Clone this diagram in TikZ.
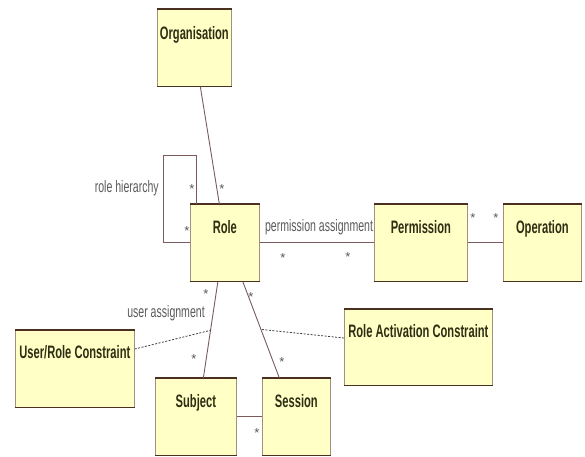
\documentclass[tikz,border=0pt]{standalone}
\usepackage{fontspec}
\setmainfont{Liberation Sans}
\newfontfamily\boxfont{Liberation Sans}[FakeStretch=0.62]
\newfontfamily\lblfont{Liberation Sans}[FakeStretch=0.64]
\newfontfamily\starfont{Liberation Sans}
\usetikzlibrary{calc}
\definecolor{boxfill}{HTML}{FFFFC6}
\definecolor{boxside}{HTML}{A09080}
\definecolor{boxtopc}{HTML}{4A3020}
\definecolor{linec}{HTML}{7A5A5A}
\definecolor{labelc}{HTML}{2E2E14}
\definecolor{edgelc}{HTML}{5A5A5A}
\begin{document}
\begin{tikzpicture}[x=1pt,y=-1pt,
  umlbox/.style={draw=boxside, fill=boxfill, line width=0.7pt, inner sep=0pt, anchor=north west},
  boxedge/.style={draw=boxtopc, line width=1.3pt},
  boxlabel/.style={anchor=base, inner sep=0pt, text=labelc, font=\boxfont\bfseries\fontsize{18}{20}\selectfont},
  edgelabel/.style={inner sep=0pt, text=edgelc, font=\lblfont\fontsize{16.5}{18}\selectfont},
  star/.style={inner sep=0pt, yshift=-3pt, text=black!65, font=\starfont\fontsize{13}{13}\selectfont},
  assoc/.style={draw=linec, line width=0.9pt},
  constr/.style={draw=black!75, line width=0.8pt, dash pattern=on 2pt off 1.5pt}]
\useasboundingbox (0,0) rectangle (585,456);

% boxes
\node[umlbox, minimum width=74pt, minimum height=77pt] (org) at (157,9) {};
\node[umlbox, minimum width=69pt, minimum height=77pt] (role) at (190,204) {};
\node[umlbox, minimum width=93pt, minimum height=77pt] (perm) at (374,204) {};
\node[umlbox, minimum width=78pt, minimum height=77pt] (oper) at (503,204) {};
\node[umlbox, minimum width=119pt, minimum height=77pt] (urc) at (15,330) {};
\node[umlbox, minimum width=81pt, minimum height=77pt] (subj) at (155,378) {};
\node[umlbox, minimum width=68pt, minimum height=77pt] (sess) at (262,378) {};
\node[umlbox, minimum width=148pt, minimum height=76pt] (rac) at (344,309) {};
\foreach \n in {org,role,perm,oper,urc,subj,sess,rac}
  \draw[boxedge] (\n.north west) -- (\n.north east) (\n.south west) -- (\n.south east);

% box titles
\node[boxlabel] (orgT) at ([yshift=-30pt]org.north) {Organisation};
\node[boxlabel] (roleT) at ([yshift=-29pt]role.north) {Role};
\node[boxlabel] (permT) at ([yshift=-29pt]perm.north) {Permission};
\node[boxlabel] (operT) at ([yshift=-29pt]oper.north) {Operation};
\node[boxlabel] (urcT) at ([yshift=-28pt]urc.north) {User/Role Constraint};
\node[boxlabel] (subjT) at ([yshift=-29pt]subj.north) {Subject};
\node[boxlabel] (sessT) at ([yshift=-29pt]sess.north) {Session};
\node[boxlabel] (racT) at ([yshift=-28pt]rac.north) {Role Activation Constraint};

% associations
\coordinate (lt) at (163,155);
\draw[assoc] ([xshift=-28.5pt]role.north) |- (lt) |- (role.west);
\draw[assoc] ([xshift=6pt]org.south) -- ([xshift=-5.5pt]role.north);
\draw[assoc] (role.east) -- (perm.west);
\draw[assoc] (perm.east) -- (oper.west);
\draw[assoc] ([xshift=-7pt]role.south) -- coordinate[pos=0.505] (ua) ([xshift=7.5pt]subj.north);
\draw[assoc] ([xshift=18pt]role.south) -- coordinate[pos=0.495] (ra) ([xshift=-17pt]sess.north);
\draw[assoc] (subj.east) -- (sess.west);

% constraints
\draw[constr] ([yshift=-19pt]urc.north east) -- (ua);
\draw[constr] ([yshift=-29pt]rac.north west) -- (ra);

% edge labels
\node[edgelabel, anchor=east] (rh) at (159,188) {role hierarchy};
\node[edgelabel] (pa) at (319,227) {permission assignment};
\node[edgelabel] (uas) at (166,313) {user assignment};

% multiplicities
\node[star] (s1) at (192,186) {*};
\node[star] (s2) at (187,228) {*};
\node[star] (s3) at (222,186) {*};
\node[star] (s4) at (283,255) {*};
\node[star] (s5) at (348,254) {*};
\node[star] (s6) at (473,215) {*};
\node[star] (s7) at (496,215) {*};
\node[star] (s8) at (206,291) {*};
\node[star] (s9) at (194,356) {*};
\node[star] (s10) at (251,294) {*};
\node[star] (s11) at (282,359) {*};
\node[star] (s12) at (257,430) {*};
\end{tikzpicture}
\end{document}
